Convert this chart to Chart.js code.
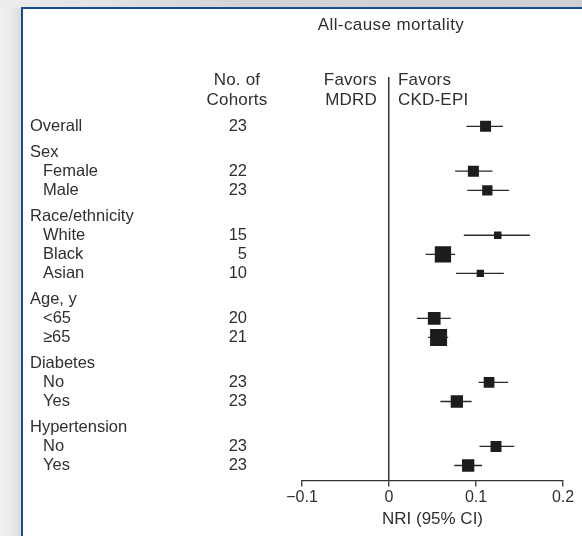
<!DOCTYPE html>
<html>
<head>
<meta charset="utf-8">
<script src="https://cdn.jsdelivr.net/npm/chart.js@4"></script>
<style>
  html, body { margin: 0; padding: 0; }
  body {
    width: 582px; height: 536px; overflow: hidden; position: relative;
    background: linear-gradient(to right, #f3f3f3 0px, #e6e6e6 14px, #dcdcdc 21px);
  }
  .topband {
    position: absolute; left: 0; top: 0; width: 582px; height: 8px;
    background: linear-gradient(to right, #ededed, #d4d4d4 40%, #d0d0d0);
  }
  .panel {
    position: absolute; left: 21px; top: 7px; width: 620px; height: 600px;
    background: #fff; border: 2.5px solid #1b4a96;
  }
  #forest { position: absolute; left: 0; top: 0; }
</style>
</head>
<body>
<div class="topband"></div>
<div class="panel"></div>
<canvas id="forest" width="582" height="536"></canvas>
<script>
const groupNames = ['Sex', 'Race/ethnicity', 'Age, y', 'Diabetes', 'Hypertension'];
const rowLabels = ['Overall', 'Female', 'Male', 'White', 'Black', 'Asian', '<65', '\u226565', 'No', 'Yes', 'No', 'Yes'];
const rowGroup = [-1, 0, 0, 1, 1, 1, 2, 2, 3, 3, 4, 4];
const cohorts = [23, 22, 23, 15, 5, 10, 20, 21, 23, 23, 23, 23];
const nri = [0.111, 0.097, 0.113, 0.125, 0.062, 0.105, 0.052, 0.057, 0.115, 0.078, 0.123, 0.091];
const ciLow = [0.089, 0.076, 0.090, 0.086, 0.042, 0.077, 0.032, 0.045, 0.103, 0.059, 0.104, 0.075];
const ciHigh = [0.131, 0.119, 0.138, 0.162, 0.076, 0.132, 0.071, 0.068, 0.137, 0.095, 0.144, 0.107];
const weights = [11, 11, 10.3, 7.5, 16.3, 7.3, 12.7, 17, 10.7, 12.3, 11, 12.3];
const xTicks = [-0.1, 0, 0.1, 0.2];

// row positions: one unit per row, extra gap before each group header
const rowPos = [];
let pos = 0;
rowLabels.forEach((lab, i) => {
    if (i > 0) {
        if (rowGroup[i] !== rowGroup[i - 1]) pos += 2.35;
        else pos += 1;
    }
    rowPos.push(pos);
});

const points = nri.map((v, i) => ({ x: v, y: rowPos[i] }));
const ciData = [];
ciLow.forEach((lo, i) => {
    ciData.push({ x: lo, y: rowPos[i] }, { x: ciHigh[i], y: rowPos[i] }, { x: null, y: null });
});

const textColor = '#2f2f2f';
const fontFamily = '"Liberation Sans", Arial, Helvetica, sans-serif';

const labelsPlugin = {
    id: 'forestLabels',
    afterDraw(chart) {
        const ctx = chart.ctx;
        const y = chart.scales.y;
        ctx.save();
        ctx.fillStyle = textColor;
        ctx.textBaseline = 'middle';

        ctx.font = '17px ' + fontFamily;
        ctx.letterSpacing = '0.4px';
        ctx.textAlign = 'center';
        ctx.fillText('All-cause mortality', 391, 25);

        ctx.letterSpacing = '0.2px';
        ctx.fillText('No. of', 237, 80);
        ctx.fillText('Cohorts', 237, 100);
        ctx.textAlign = 'right';
        ctx.fillText('Favors', 377, 80);
        ctx.fillText('MDRD', 377, 100);
        ctx.textAlign = 'left';
        ctx.fillText('Favors', 398, 80);
        ctx.fillText('CKD-EPI', 398, 100);

        ctx.font = '16.5px ' + fontFamily;
        ctx.letterSpacing = '0px';
        rowLabels.forEach((lab, i) => {
            const py = y.getPixelForValue(rowPos[i]);
            const g = rowGroup[i];
            if (g >= 0 && (i === 0 || rowGroup[i - 1] !== g)) {
                ctx.textAlign = 'left';
                ctx.fillText(groupNames[g], 30, y.getPixelForValue(rowPos[i] - 1));
            }
            ctx.textAlign = 'left';
            ctx.fillText(lab, g < 0 ? 30 : 43, py);
            ctx.textAlign = 'right';
            ctx.fillText(String(cohorts[i]), 247, py);
        });
        ctx.restore();
    }
};

new Chart(document.getElementById('forest').getContext('2d'), {
    type: 'scatter',
    data: {
        datasets: [{
            label: 'NRI',
            data: points,
            pointStyle: 'rect',
            pointRadius: weights.map(w => w / Math.SQRT2),
            pointHoverRadius: weights.map(w => w / Math.SQRT2),
            backgroundColor: '#1c1c1c',
            borderWidth: 0
        }, {
            label: '95% CI',
            data: ciData,
            showLine: true,
            spanGaps: false,
            borderColor: '#2a2a2a',
            borderWidth: 1.3,
            pointRadius: 0
        }]
    },
    options: {
        responsive: false,
        animation: false,
        layout: { padding: { left: 302, right: 19, top: 77, bottom: 6 } },
        plugins: {
            legend: { display: false },
            tooltip: { enabled: false }
        },
        scales: {
            x: {
                type: 'linear',
                min: -0.1,
                max: 0.2,
                afterBuildTicks: axis => { axis.ticks = xTicks.map(v => ({ value: v })); },
                border: { display: true, color: '#333', width: 1.3 },
                grid: {
                    drawOnChartArea: true,
                    color: c => (c.tick && Math.abs(c.tick.value) < 1e-9) ? '#333' : 'rgba(0,0,0,0)',
                    lineWidth: 1.5,
                    tickColor: '#333',
                    tickLength: 6,
                    tickWidth: 1.3
                },
                ticks: {
                    color: textColor,
                    padding: 2,
                    font: { family: fontFamily, size: 16 },
                    callback: v => Math.abs(v) < 1e-9 ? '0' : (v < 0 ? '\u2212' : '') + Math.abs(v).toFixed(1)
                },
                title: {
                    display: true,
                    text: 'NRI (95% CI)',
                    color: textColor,
                    padding: { top: 0, bottom: 0 },
                    font: { family: fontFamily, size: 17 }
                }
            },
            y: {
                type: 'linear',
                display: false,
                reverse: true,
                min: -2.58,
                max: 18.53
            }
        }
    },
    plugins: [labelsPlugin]
});
</script>
</body>
</html>
